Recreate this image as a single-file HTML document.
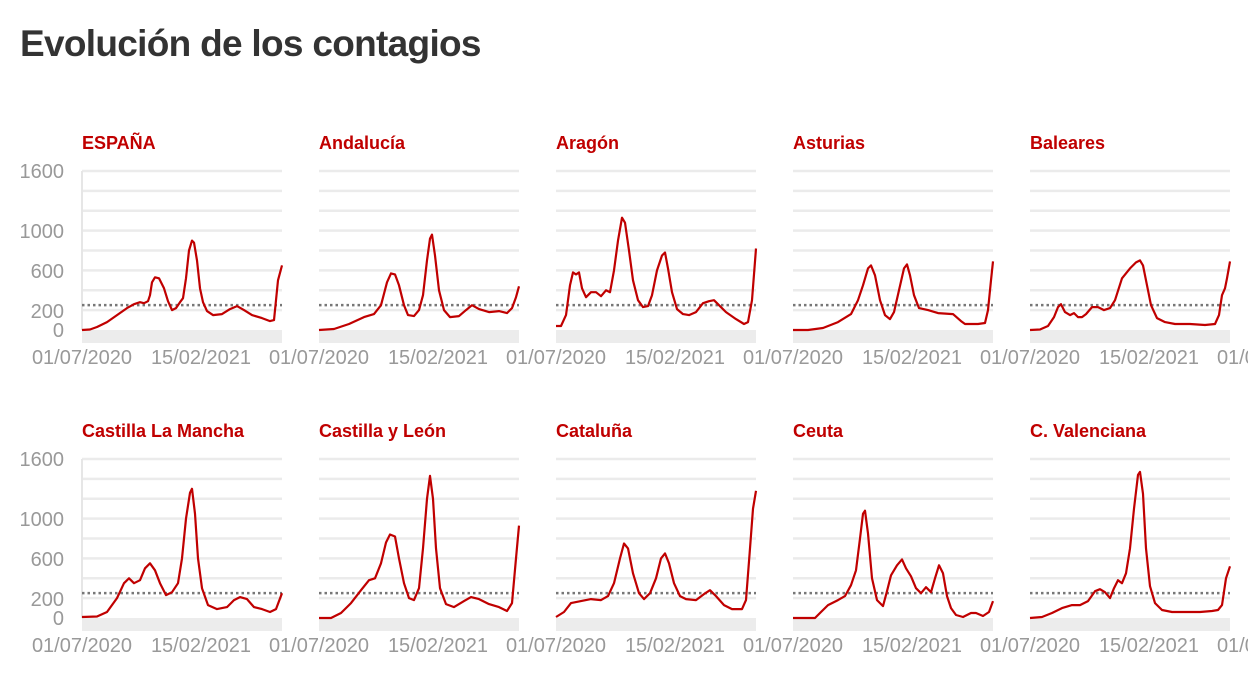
<!DOCTYPE html>
<html><head><meta charset="utf-8">
<style>
body{margin:0;background:#fff;width:1248px;height:698px;overflow:hidden;font-family:"Liberation Sans",sans-serif}
h1{position:absolute;left:20px;top:23px;margin:0;font-size:37px;font-weight:bold;color:#333;letter-spacing:-0.7px}
svg{position:absolute;left:0;top:0}
</style></head><body>
<h1>Evolución de los contagios</h1>
<svg id="s" width="1248" height="698" xmlns="http://www.w3.org/2000/svg" font-family="Liberation Sans, sans-serif">
<g fill="#c00000" font-weight="bold" font-size="18">
<text x="82" y="149">ESPAÑA</text><text x="319" y="149">Andalucía</text><text x="556" y="149">Aragón</text><text x="793" y="149">Asturias</text><text x="1030" y="149">Baleares</text>
<text x="82" y="437">Castilla La Mancha</text><text x="319" y="437">Castilla y León</text><text x="556" y="437">Cataluña</text><text x="793" y="437">Ceuta</text><text x="1030" y="437">C. Valenciana</text>
</g>
<g fill="#999" font-size="20" text-anchor="end">
<text x="64" y="178">1600</text><text x="64" y="238">1000</text><text x="64" y="278">600</text><text x="64" y="318">200</text><text x="64" y="337">0</text>
<text x="64" y="466">1600</text><text x="64" y="526">1000</text><text x="64" y="566">600</text><text x="64" y="606">200</text><text x="64" y="625">0</text>
</g>
<g fill="#999" font-size="20" text-anchor="middle" id="dates">
<text x="82" y="364">01/07/2020</text><text x="201" y="364">15/02/2021</text>
<text x="319" y="364">01/07/2020</text><text x="438" y="364">15/02/2021</text>
<text x="556" y="364">01/07/2020</text><text x="675" y="364">15/02/2021</text>
<text x="793" y="364">01/07/2020</text><text x="912" y="364">15/02/2021</text>
<text x="1030" y="364">01/07/2020</text><text x="1149" y="364">15/02/2021</text><text x="1267" y="364">01/07/2021</text>
<text x="82" y="652">01/07/2020</text><text x="201" y="652">15/02/2021</text>
<text x="319" y="652">01/07/2020</text><text x="438" y="652">15/02/2021</text>
<text x="556" y="652">01/07/2020</text><text x="675" y="652">15/02/2021</text>
<text x="793" y="652">01/07/2020</text><text x="912" y="652">15/02/2021</text>
<text x="1030" y="652">01/07/2020</text><text x="1149" y="652">15/02/2021</text><text x="1267" y="652">01/07/2021</text>
</g>
<g id="plots"></g>
</svg>
<script>
var D=[
[[0,0],[8,5],[15,30],[25,80],[35,150],[45,220],[52,260],[58,280],[62,270],[66,290],[68,350],[70,480],[73,530],[77,520],[82,420],[86,290],[90,200],[94,220],[98,280],[101,320],[104,520],[107,800],[110,900],[112,880],[115,700],[118,420],[121,280],[125,190],[131,150],[140,160],[148,210],[155,240],[162,200],[170,150],[180,120],[188,90],[192,100],[194,300],[196,500],[200,650]],
[[0,0],[15,10],[30,60],[45,130],[55,160],[62,250],[68,480],[72,570],[76,560],[80,450],[85,250],[89,150],[95,140],[100,200],[104,350],[108,700],[111,920],[113,960],[116,750],[120,400],[125,200],[131,130],[140,140],[147,200],[153,250],[160,210],[170,180],[180,190],[188,170],[193,220],[197,330],[200,440]],
[[0,40],[5,40],[10,150],[14,450],[17,580],[20,560],[23,580],[26,420],[30,330],[35,380],[40,380],[45,340],[50,400],[54,380],[58,600],[62,900],[66,1130],[69,1080],[73,800],[77,500],[82,300],[87,230],[92,240],[96,350],[101,600],[106,750],[109,780],[112,620],[116,380],[121,210],[127,160],[133,150],[140,180],[147,270],[153,290],[158,300],[163,250],[170,180],[180,110],[188,60],[192,80],[196,300],[200,820]],
[[0,0],[15,0],[30,20],[45,80],[58,160],[65,300],[70,450],[75,620],[78,650],[82,550],[87,300],[92,150],[97,110],[101,180],[106,400],[111,620],[114,660],[117,550],[121,350],[126,220],[135,200],[145,170],[160,160],[168,90],[172,60],[185,60],[192,70],[195,200],[198,500],[200,690]],
[[0,0],[10,5],[18,40],[24,130],[28,230],[31,260],[35,180],[40,150],[44,170],[48,130],[52,130],[56,160],[62,230],[68,230],[74,200],[80,220],[85,300],[92,520],[100,620],[106,680],[110,700],[113,650],[117,450],[121,250],[127,120],[135,80],[145,60],[160,60],[175,50],[185,60],[189,150],[192,350],[195,420],[197,520],[200,690]],
[[0,10],[15,15],[25,60],[35,200],[42,350],[47,400],[52,350],[58,380],[63,500],[68,550],[73,480],[78,350],[84,230],[90,260],[96,350],[100,600],[104,1000],[108,1260],[110,1300],[113,1050],[116,600],[120,300],[126,130],[135,90],[145,110],[152,180],[158,210],[165,190],[172,110],[180,90],[188,60],[194,90],[200,250]],
[[0,0],[12,0],[22,50],[32,150],[42,280],[50,380],[56,400],[62,550],[67,760],[71,840],[76,820],[80,600],[85,350],[90,200],[95,180],[100,300],[104,700],[108,1200],[111,1430],[114,1200],[117,700],[121,300],[127,140],[135,110],[145,170],[152,210],[160,190],[170,140],[180,110],[188,70],[193,150],[197,600],[200,930]],
[[0,10],[8,60],[15,150],[25,170],[35,190],[45,180],[52,220],[58,350],[64,600],[68,750],[72,700],[77,450],[83,250],[88,190],[94,250],[100,400],[105,600],[109,650],[113,550],[118,350],[124,220],[130,190],[140,180],[148,240],[154,280],[160,220],[168,130],[176,90],[186,90],[190,180],[194,700],[197,1100],[200,1280]],
[[0,0],[22,0],[28,60],[35,130],[45,180],[52,220],[58,330],[63,480],[67,800],[70,1050],[72,1080],[75,850],[79,400],[84,180],[90,120],[94,270],[98,430],[104,530],[109,590],[113,500],[118,420],[123,300],[128,250],[133,310],[138,260],[142,400],[146,530],[150,450],[154,220],[158,100],[163,30],[170,10],[178,50],[183,50],[190,20],[196,60],[200,170]],
[[0,0],[12,10],[22,50],[32,100],[42,130],[50,130],[58,170],[65,270],[70,290],[75,260],[80,200],[84,300],[88,380],[92,350],[96,450],[100,700],[104,1100],[108,1440],[110,1470],[113,1250],[116,700],[120,320],[125,150],[132,80],[142,60],[155,60],[170,60],[182,70],[188,80],[192,130],[196,400],[200,520]]
];
var g=document.getElementById('plots'),h='';
for(var i=0;i<10;i++){
 var x0=82+237*(i%5), y0=330+288*Math.floor(i/5);
 var sc=159/1600;
 for(var v=200;v<=1600;v+=200){var y=y0-v*sc;h+='<line x1="'+x0+'" x2="'+(x0+200)+'" y1="'+y+'" y2="'+y+'" stroke="#ebebeb" stroke-width="2.5"/>';}
 h+='<rect x="'+x0+'" y="'+y0+'" width="200" height="13" fill="#ececec"/>';
 if(i%5==0)h+='<line x1="'+x0+'" x2="'+x0+'" y1="'+(y0-159)+'" y2="'+y0+'" stroke="#e6e6e6" stroke-width="2"/>';
 var yd=y0-250*sc;
 h+='<line x1="'+x0+'" x2="'+(x0+200)+'" y1="'+yd+'" y2="'+yd+'" stroke="#777" stroke-width="2.5" stroke-dasharray="2.5 3"/>';
 var p=D[i].map(function(a){return (x0+a[0]).toFixed(1)+','+(y0-a[1]*sc).toFixed(1)}).join(' ');
 h+='<polyline points="'+p+'" fill="none" stroke="#c00000" stroke-width="2.2" stroke-linejoin="round"/>';
}
g.innerHTML=h;
</script>
</body></html>
